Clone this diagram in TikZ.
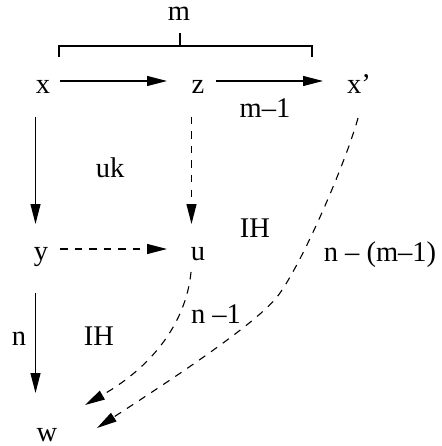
\documentclass[tikz,border=0pt]{standalone}
\usepackage{fontspec}
\setmainfont{Liberation Serif}
\usetikzlibrary{arrows.meta,calc}
\begin{document}
\begin{tikzpicture}[x=1pt,y=-1pt,
  lbl/.style={inner sep=0pt, anchor=base, font=\fontsize{28.5}{32}\selectfont},
  ln/.style={line width=1.1pt},
  arr/.style={ln, -{Triangle[length=20pt,width=10pt]}},
  dsh/.style={dash pattern=on 7.5pt off 7pt}]
\useasboundingbox (0,0) rectangle (441,446);
\node[lbl] (m) at (179,21) {m};
\node[lbl] (x) at (43,94) {x};
\node[lbl] (z) at (198,94) {z};
\node[lbl] (xp) at (359,94) {x’};
\node[lbl] (m1) at (265,118) {m–1};
\node[lbl] (uk) at (110,178) {uk};
\node[lbl] (ih1) at (255,237) {IH};
\node[lbl] (y) at (41,260) {y};
\node[lbl] (u) at (198,260) {u};
\node[lbl] (nm) at (380,261) {n – (m–1)};
\node[lbl] (n1) at (216,323) {n –1};
\node[lbl] (n) at (19,345) {n};
\node[lbl] (ih2) at (99,345) {IH};
\node[lbl] (w) at (47,441) {w};
% bracket
\draw[ln] (59,57) -- (59,46) -- (312,46) -- (312,57);
\draw[ln] (180,46) -- (180,33);
% connectors
\draw[arr] ($(x.base)+(17,-13)$) -- ($(z.base)+(-31,-13)$);
\draw[arr] ($(z.base)+(18,-13)$) -- ($(xp.base)+(-36,-13)$);
\draw[arr] ($(x.base)+(-7.5,23)$) -- ($(y.base)+(-5.5,-36)$);
\draw[arr,dsh] ($(z.base)+(-6.5,23)$) -- ($(u.base)+(-6.5,-36)$);
\draw[arr,dsh] ($(y.base)+(19,-11)$) -- ($(u.base)+(-31,-11)$);
\draw[arr] ($(y.base)+(-5.5,33)$) -- ($(w.base)+(-11.5,-48)$);
\draw[arr,dsh] ($(u.base)+(-7,12)$) .. controls (187,315) and (160,362) .. ($(w.base)+(38,-36)$);
\draw[arr,dsh] ($(xp.base)+(-1,24)$) .. controls (345,165) and (300,268) .. (277,297)
  .. controls (253,327) and (154.5,390.5) .. ($(w.base)+(50,-13)$);
\end{tikzpicture}
\end{document}
